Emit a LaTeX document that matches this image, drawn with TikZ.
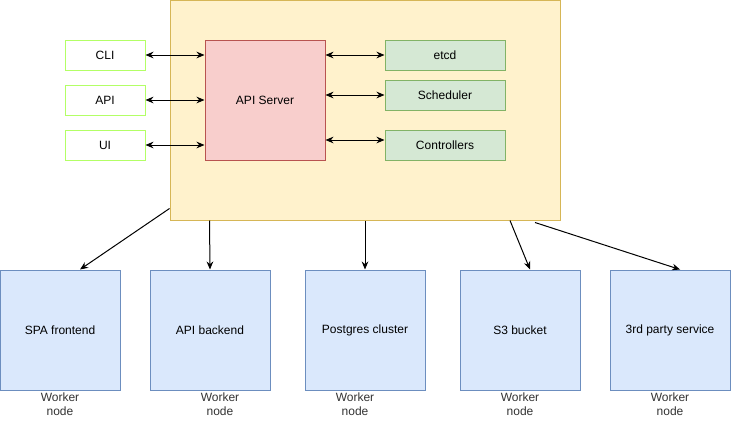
\documentclass[tikz,border=0pt]{standalone}
\usepackage{fontspec}
\setmainfont{Liberation Sans}
\usetikzlibrary{arrows.meta,positioning,calc}
\definecolor{mstfill}{HTML}{FFF2CC}
\definecolor{mstdraw}{HTML}{D6B656}
\definecolor{apifill}{HTML}{F8CECC}
\definecolor{apidraw}{HTML}{B85450}
\definecolor{cmpfill}{HTML}{D5E8D4}
\definecolor{cmpdraw}{HTML}{82B366}
\definecolor{clidraw}{HTML}{B3FF66}
\definecolor{wrkfill}{HTML}{DAE8FC}
\definecolor{wrkdraw}{HTML}{6C8EBF}
\definecolor{txtgray}{HTML}{333333}

\tikzset{
  box/.style={draw,line width=0.75pt,font=\fontsize{9}{11}\selectfont,text=black},
  client/.style={box,fill=white,draw=clidraw,minimum width=60pt,minimum height=22.5pt},
  comp/.style={box,fill=cmpfill,draw=cmpdraw,minimum width=90pt,minimum height=22.5pt},
  worker/.style={box,fill=wrkfill,draw=wrkdraw,minimum width=90pt,minimum height=90pt},
  wlabel/.style={font=\fontsize{9}{10.5}\selectfont,text=txtgray,align=center},
  link/.style={line width=0.75pt,-{Stealth[length=6pt,width=5pt]}},
  dlink/.style={line width=0.75pt,{Stealth[length=6pt,width=5pt]}-{Stealth[length=6pt,width=5pt]}}
}

\begin{document}
\begin{tikzpicture}[x=0.75pt,y=-0.75pt]
        \useasboundingbox (0,0) rectangle (731,421);

        % Control plane
        \node[box,fill=mstfill,draw=mstdraw,minimum width=292.5pt,minimum height=165pt]
          (master) at (365,110) {};
        \node[box,fill=apifill,draw=apidraw,minimum width=90pt,minimum height=90pt]
          (apisrv) at (265,100) {API Server};

        % Clients
        \node[client] (cli) at (105,55)  {CLI};
        \node[client] (api) at (105,100) {API};
        \node[client] (ui)  at (105,145) {UI};

        % Components
        \node[comp] (etcd)  at (445,55)  {etcd};
        \node[comp] (sched) at (445,95)  {Scheduler};
        \node[comp] (ctrl)  at (445,145) {Controllers};

        \draw[dlink] (cli.east) -- (cli.east -| apisrv.west);
        \draw[dlink] (api.east) -- (api.east -| apisrv.west);
        \draw[dlink] (ui.east)  -- (ui.east -| apisrv.west);
        \draw[dlink] (etcd.west -| apisrv.east)  -- (etcd.west);
        \draw[dlink] (sched.west -| apisrv.east) -- (sched.west);
        \draw[dlink] ($(ctrl.west -| apisrv.east)+(0,-5)$) -- ($(ctrl.west)+(0,-5)$);

        % Worker nodes
        \node[worker] (spa)   at (60,330)  {SPA frontend};
        \node[worker] (back)  at (210,330) {API backend};
        \node[worker] (pg)    at (365,330) {Postgres cluster};
        \node[worker] (s3)    at (520,330) {S3 bucket};
        \node[worker] (third) at (670,330) {3rd party service};

        \node[wlabel] (wspa)   at (60,404)  {Worker\\node};
        \node[wlabel] (wback)  at (220,404) {Worker\\node};
        \node[wlabel] (wpg)    at (355,404) {Worker\\node};
        \node[wlabel] (ws3)    at (520,404) {Worker\\node};
        \node[wlabel] (wthird) at (670,404) {Worker\\node};

        \draw[link] ($(master.south west)+(0,-12)$) -- ($(spa.north)+(20,0)$);
        \draw[link] ($(master.south west)+(40,0)$) -- (back.north);
        \draw[link] (master.south -| pg.north) -- (pg.north);
        \draw[link] ($(master.south)+(145,0)$) -- ($(s3.north)+(10,0)$);
        \draw[link] ($(master.south)+(170,2)$) -- ($(third.north)+(10,0)$);
      \end{tikzpicture}
\end{document}
